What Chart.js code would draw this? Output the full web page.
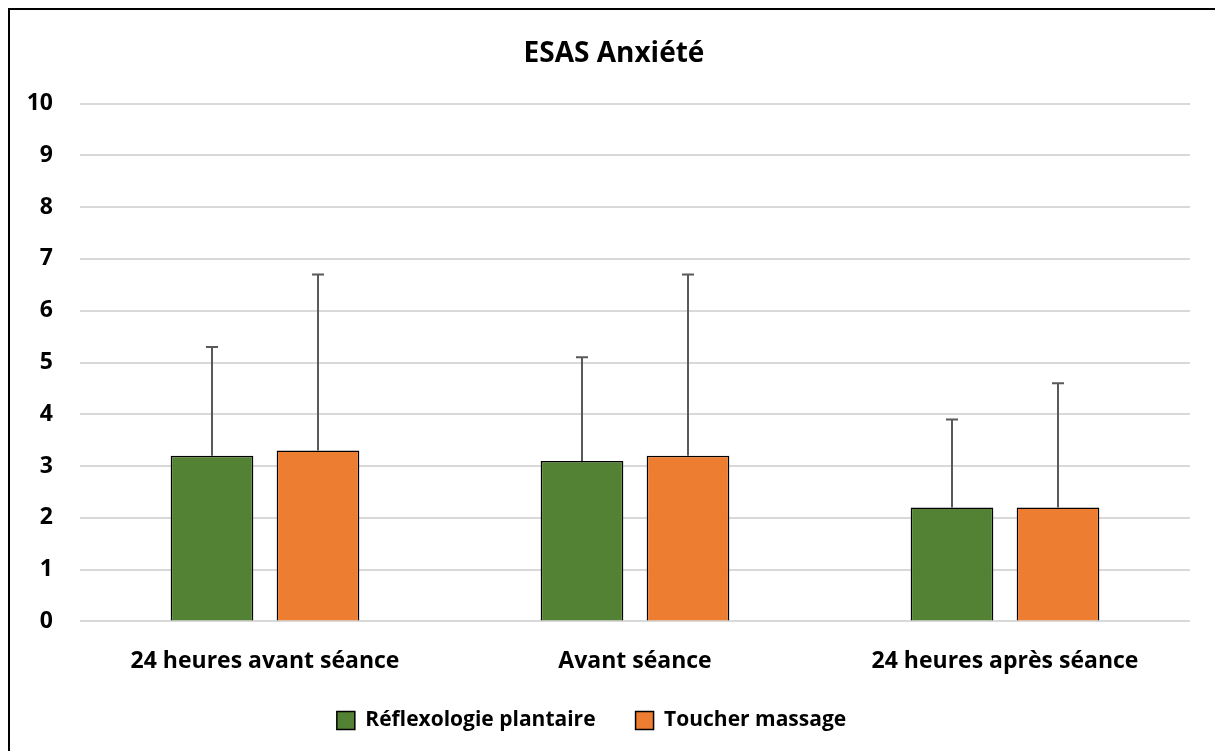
<!DOCTYPE html>
<html><head><meta charset="utf-8">
<script src="https://cdn.jsdelivr.net/npm/chart.js@4"></script>
<style>html,body{margin:0;padding:0;background:#fff;overflow:hidden}#wrap{width:1215px;height:751px;position:relative}</style>
</head><body><div id="wrap"><canvas id="c" width="1215" height="751"></canvas></div>
<script>
const categories = ["24 heures avant séance", "Avant séance", "24 heures après séance"];
const seriesNames = ["Réflexologie plantaire", "Toucher massage"];
const reflexologie = [3.2, 3.1, 2.2];
const toucher = [3.3, 3.2, 2.2];
const reflexologieSD = [2.1, 2.0, 1.7];
const toucherSD = [3.4, 3.5, 2.4];
const yTicks = [0,1,2,3,4,5,6,7,8,9,10];

const FONT = "'Open Sans', Lato, sans-serif";
const LEGEND_TRIM = 23;

const errorBars = {
  id: 'errorBars',
  afterDatasetsDraw(chart) {
    const ctx = chart.ctx;
    const y = chart.scales.y;
    chart.data.datasets.forEach((ds, di) => {
      const meta = chart.getDatasetMeta(di);
      meta.data.forEach((bar, i) => {
        const top = y.getPixelForValue(ds.data[i] + ds.sd[i]);
        const base = y.getPixelForValue(ds.data[i]);
        ctx.save();
        ctx.strokeStyle = '#595959';
        ctx.lineWidth = 2;
        ctx.beginPath();
        ctx.moveTo(bar.x, base);
        ctx.lineTo(bar.x, top);
        ctx.moveTo(bar.x - 6, top);
        ctx.lineTo(bar.x + 6, top);
        ctx.stroke();
        ctx.restore();
      });
    });
  }
};
const frame = {
  id: 'frame',
  beforeLayout(chart) {
    const lg = chart.legend;
    if (lg && !lg._patched) {
      const orig = lg.fit;
      lg.fit = function () { orig.call(this); this.height -= LEGEND_TRIM; };
      lg._patched = true;
    }
  },
  afterLayout(chart) {
    if (chart.legend) {
      chart.legend.left -= 5; chart.legend.right -= 5;
      chart.legend.top -= LEGEND_TRIM;
      chart.legend.height += LEGEND_TRIM;
    }
    if (chart.titleBlock) { chart.titleBlock.left += 17.5; chart.titleBlock.right += 17.5; }
  },
  afterDraw(chart) {
    const ctx = chart.ctx;
    ctx.save();
    ctx.strokeStyle = '#000';
    ctx.lineWidth = 2;
    ctx.beginPath();
    ctx.moveTo(9, 760);
    ctx.lineTo(9, 9);
    ctx.lineTo(1225, 9);
    ctx.stroke();
    ctx.restore();
  }
};

new Chart(document.getElementById('c'), {
  type: 'bar',
  data: {
    labels: categories,
    datasets: [
      { label: seriesNames[0], data: reflexologie, sd: reflexologieSD, backgroundColor: '#548235', borderColor: '#000', borderWidth: 1.5 },
      { label: seriesNames[1], data: toucher, sd: toucherSD, backgroundColor: '#ED7D31', borderColor: '#000', borderWidth: 1.5 }
    ]
  },
  options: {
    responsive: false,
    animation: false,
    devicePixelRatio: 1,
    layout: { padding: { left: 3, right: 25, top: 20, bottom: 10 } },
    datasets: { bar: { categoryPercentage: 0.573, barPercentage: 0.78 } },
    plugins: {
      title: { display: true, text: 'ESAS Anxiété', color: '#000', font: { family: FONT, size: 28, weight: 'bold' }, padding: { top: 17, bottom: 33 } },
      legend: { position: 'bottom', labels: { color: '#000', boxWidth: 18, boxHeight: 18, padding: 40, font: { family: FONT, size: 21, weight: 'bold' } } },
      tooltip: { enabled: false }
    },
    scales: {
      x: {
        grid: { display: false },
        border: { display: false },
        ticks: { color: '#000', padding: 18, font: { family: FONT, size: 23, weight: 'bold' } }
      },
      y: {
        min: 0, max: 10,
        afterBuildTicks(axis) { axis.ticks = yTicks.map(v => ({ value: v })); },
        afterFit(axis) { axis.width = 77; },
        grid: { color: '#d9d9d9', lineWidth: 2, drawTicks: false },
        border: { display: false },
        ticks: { color: '#000', padding: 27, font: { family: FONT, size: 23, weight: 'bold' } }
      }
    }
  },
  plugins: [errorBars, frame]
});
</script></body></html>
